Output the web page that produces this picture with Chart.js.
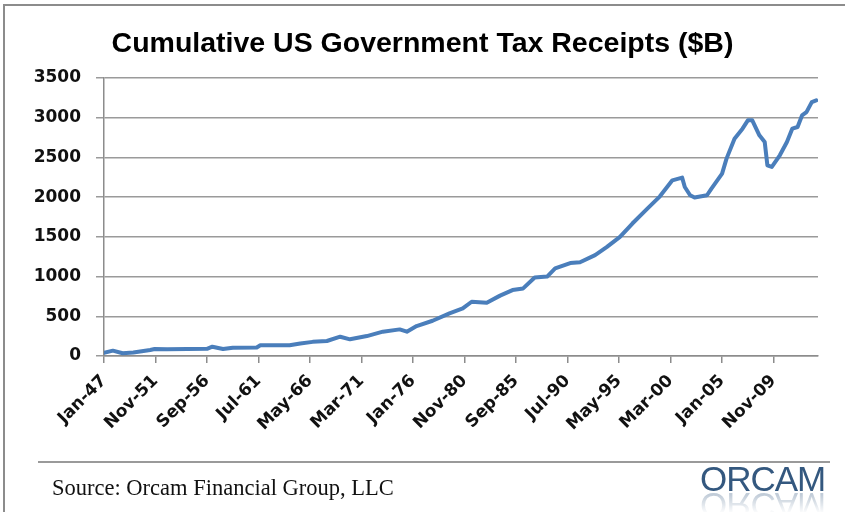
<!DOCTYPE html>
<html>
<head>
<meta charset="utf-8">
<script src="https://cdn.jsdelivr.net/npm/chart.js@4/dist/chart.umd.min.js"></script>
<style>
  html, body { margin: 0; padding: 0; background: #fff; }
  #frame { position: relative; width: 845px; height: 512px; overflow: hidden; }
  #frame::before { content: ''; position: absolute; left: 3px; top: 4px; right: 0; bottom: -4px;
    border-left: 2px solid #8c8c8c; border-top: 2px solid #8c8c8c; }
  #chart-box { position: absolute; left: 0; top: 0; width: 845px; height: 512px; }
  #title { position: absolute; left: 0; width: 845px; top: 26px; text-align: center;
    font: bold 28.5px "Liberation Sans", Arial, sans-serif; color: #000; white-space: nowrap; }
  #rule { position: absolute; left: 38px; width: 792px; top: 461px; height: 2px; background: #9a9a9a; }
  #source { position: absolute; left: 52px; top: 475px; font: 22.5px "Liberation Serif", serif;
    color: #111; white-space: nowrap; }
  .logo { position: absolute; left: 700px; font: 35px "Liberation Sans", Arial, sans-serif;
    color: #34587f; letter-spacing: -1px; line-height: 34px; white-space: nowrap; }
  #logo { top: 462px; }
  #logo-ref { top: 488px; transform: scaleY(-1); opacity: .3;
    -webkit-mask-image: linear-gradient(to top, #000 20%, transparent 75%); }
</style>
</head>
<body>
<div id="frame">
  <div id="chart-box"><canvas id="c" width="845" height="512"></canvas></div>
  <div id="title">Cumulative US Government Tax Receipts ($B)</div>
  <div id="rule"></div>
  <div id="source">Source: Orcam Financial Group, LLC</div>
  <div class="logo" id="logo">ORCAM</div>
  <div class="logo" id="logo-ref">ORCAM</div>
</div>
<script>
  // x tick labels, one every 58 months starting Jan-47
  const TICK_LABELS = ['Jan-47', 'Nov-51', 'Sep-56', 'Jul-61', 'May-66', 'Mar-71', 'Jan-76',
    'Nov-80', 'Sep-85', 'Jul-90', 'May-95', 'Mar-00', 'Jan-05', 'Nov-09'];
  const TICK_STEP = 58;
  const LAST_MONTH = 804;

  // months since Jan-1947
  const MONTHS = [0, 10, 21, 33, 52, 57, 71, 116, 122, 134, 145, 172, 176, 209, 221, 235, 251,
    266, 277, 296, 314, 333, 341, 352, 370, 389, 404, 414, 431, 446, 460, 472, 485, 499, 508,
    525, 536, 553, 566, 581, 595, 611, 626, 640, 651, 654, 660, 665, 679, 684, 696, 701, 710,
    719, 725, 730, 738, 744, 747, 752, 761, 769, 775, 781, 786, 791, 797, 802];
  // receipts, $B
  const RECEIPTS = [40, 67, 35, 45, 75, 88, 84, 90, 117, 88, 105, 108, 135, 135, 158, 178, 189,
    243, 210, 251, 306, 335, 306, 377, 444, 536, 599, 683, 670, 760, 830, 851, 989, 1000, 1102,
    1170, 1180, 1270, 1370, 1500, 1668, 1846, 2010, 2212, 2246, 2128, 2024, 1995, 2024, 2108,
    2296, 2485, 2736, 2862, 2967, 2967, 2778, 2694, 2401, 2380, 2527, 2694, 2862, 2883, 3029,
    3071, 3197, 3218];

  const Y_MAX = 3500, Y_STEP = 500;
  const AXIS_GREY = '#8c8c8c';
  const TICK_FONT = { family: '"DejaVu Sans", sans-serif', size: 17, weight: 'bold' };

  new Chart(document.getElementById('c'), {
    type: 'line',
    data: {
      datasets: [{
        data: MONTHS.map((m, i) => ({ x: m, y: RECEIPTS[i] })),
        borderColor: '#4a7ebb', borderWidth: 4, pointRadius: 0,
        borderJoinStyle: 'round', borderCapStyle: 'round', tension: 0,
      }],
    },
    options: {
      responsive: false, animation: false,
      layout: { padding: { top: 78, right: 27, left: 0, bottom: 0 } },
      plugins: { legend: { display: false }, tooltip: { enabled: false } },
      scales: {
        x: {
          type: 'linear', min: 0, max: LAST_MONTH,
          afterFit: s => { s.height = 156; },
          grid: { drawOnChartArea: false, drawTicks: true, tickLength: 7, color: AXIS_GREY, lineWidth: 1.5 },
          border: { color: AXIS_GREY, width: 1.5 },
          ticks: {
            stepSize: TICK_STEP, includeBounds: false, autoSkip: false,
            minRotation: 45, maxRotation: 45, padding: 8,
            color: '#111', font: TICK_FONT,
            callback: v => TICK_LABELS[Math.round(v / TICK_STEP)] || '',
          },
        },
        y: {
          min: 0, max: Y_MAX,
          afterFit: s => { s.width = 104; },
          grid: { color: '#9a9a9a', lineWidth: 1.5, tickLength: 8 },
          border: { color: AXIS_GREY, width: 1.5 },
          ticks: { stepSize: Y_STEP, padding: 15, color: '#111', font: TICK_FONT, callback: v => String(v) },
        },
      },
    },
  });
</script>
</body>
</html>
